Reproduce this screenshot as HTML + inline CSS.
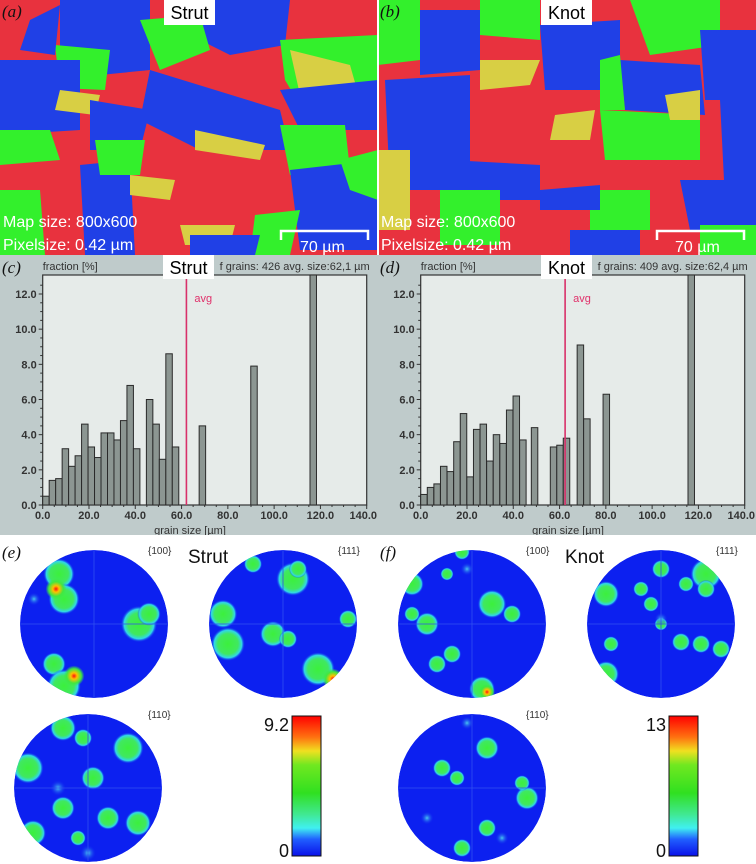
<!DOCTYPE html>
<html><head><meta charset="utf-8">
<style>
html,body{margin:0;padding:0;background:#fff;}
body{width:756px;height:864px;position:relative;overflow:hidden;font-family:"Liberation Sans","DejaVu Sans",sans-serif;}
svg{position:absolute;left:0;top:0;}
</style></head>
<body>
<svg id="fig" width="756" height="864" viewBox="0 0 756 864" xmlns="http://www.w3.org/2000/svg">
<defs>
  <clipPath id="clipA"><rect x="0" y="0" width="377" height="255"/></clipPath>
  <clipPath id="clipB"><rect x="379" y="0" width="377" height="255"/></clipPath>
  <radialGradient id="blobG">
    <stop offset="0" stop-color="#3cf03c"/><stop offset="0.6" stop-color="#40e860"/><stop offset="0.82" stop-color="#30d8e8"/><stop offset="1" stop-color="#1030f0" stop-opacity="0"/>
  </radialGradient>
  <radialGradient id="blobC">
    <stop offset="0" stop-color="#48c8f0"/><stop offset="1" stop-color="#1030f0" stop-opacity="0"/>
  </radialGradient>
  <radialGradient id="blobR">
    <stop offset="0" stop-color="#ff1010"/><stop offset="0.3" stop-color="#ffc000"/><stop offset="0.7" stop-color="#40e840"/><stop offset="1" stop-color="#40e840" stop-opacity="0"/>
  </radialGradient>
  <linearGradient id="cbar" x1="0" y1="1" x2="0" y2="0">
    <stop offset="0" stop-color="#0a10e8"/><stop offset="0.12" stop-color="#2060ff"/><stop offset="0.2" stop-color="#40f0f0"/><stop offset="0.3" stop-color="#40e890"/><stop offset="0.45" stop-color="#30e020"/><stop offset="0.65" stop-color="#70e820"/><stop offset="0.75" stop-color="#f0e020"/><stop offset="0.85" stop-color="#ff7010"/><stop offset="1" stop-color="#ff0000"/>
  </linearGradient>
</defs>

<g clip-path="url(#clipA)">
  <rect x="0" y="0" width="378" height="255" fill="#e8323e"/>
  <polygon fill="#2040e6" points="60,0 150,0 150,70 100,75 60,55"/>
  <polygon fill="#2040e6" points="200,0 290,0 285,45 230,55 200,40"/>
  <polygon fill="#33f02c" points="280,40 378,35 378,100 300,105 285,80"/>
  <polygon fill="#d8cf44" points="290,50 350,65 360,100 300,95"/>
  <polygon fill="#33f02c" points="55,45 110,50 105,90 60,88"/>
  <polygon fill="#33f02c" points="140,20 200,15 210,50 160,70"/>
  <polygon fill="#2040e6" points="0,60 80,60 80,130 0,135"/>
  <polygon fill="#2040e6" points="150,70 280,110 290,150 200,150 140,120"/>
  <polygon fill="#2040e6" points="280,90 378,80 378,130 300,130"/>
  <polygon fill="#d8cf44" points="60,90 100,95 95,115 55,110"/>
  <polygon fill="#2040e6" points="90,100 150,110 140,150 90,150"/>
  <polygon fill="#33f02c" points="0,130 50,130 60,160 0,165"/>
  <polygon fill="#d8cf44" points="195,130 265,145 260,160 195,150"/>
  <polygon fill="#33f02c" points="280,125 345,125 350,170 290,175"/>
  <polygon fill="#2040e6" points="290,170 378,160 378,250 300,250"/>
  <polygon fill="#33f02c" points="340,160 378,150 378,200 350,190"/>
  <polygon fill="#2040e6" points="80,165 130,160 135,255 85,255"/>
  <polygon fill="#33f02c" points="95,140 145,140 140,175 100,175"/>
  <polygon fill="#d8cf44" points="130,175 175,180 170,200 130,195"/>
  <polygon fill="#33f02c" points="0,190 40,190 45,255 0,255"/>
  <polygon fill="#33f02c" points="255,215 300,210 290,255 250,255"/>
  <polygon fill="#d8cf44" points="180,225 235,225 230,245 185,245"/>
  <polygon fill="#2040e6" points="60,5 30,20 20,50 55,55"/>
  <polygon fill="#2040e6" points="190,235 260,235 255,255 190,255"/>
</g>
<g clip-path="url(#clipB)">
  <rect x="378" y="0" width="378" height="255" fill="#e8323e"/>
  <polygon fill="#33f02c" points="378,0 420,0 420,60 378,65"/>
  <polygon fill="#2040e6" points="420,10 480,10 480,70 420,75"/>
  <polygon fill="#33f02c" points="480,0 540,0 540,40 480,35"/>
  <polygon fill="#2040e6" points="540,25 620,20 620,90 545,90"/>
  <polygon fill="#33f02c" points="630,0 720,0 720,45 650,55"/>
  <polygon fill="#2040e6" points="700,30 756,30 756,100 705,100"/>
  <polygon fill="#2040e6" points="385,80 470,75 470,190 390,190"/>
  <polygon fill="#d8cf44" points="480,60 540,60 530,85 480,90"/>
  <polygon fill="#33f02c" points="600,110 700,115 700,160 605,160"/>
  <polygon fill="#2040e6" points="620,60 700,65 705,115 625,110"/>
  <polygon fill="#d8cf44" points="665,95 700,90 700,120 670,120"/>
  <polygon fill="#2040e6" points="720,100 756,100 756,200 725,200"/>
  <polygon fill="#2040e6" points="450,160 540,165 540,200 455,200"/>
  <polygon fill="#33f02c" points="440,190 500,190 500,245 440,245"/>
  <polygon fill="#d8cf44" points="378,150 410,150 410,230 378,230"/>
  <polygon fill="#33f02c" points="590,190 650,190 650,230 590,230"/>
  <polygon fill="#2040e6" points="680,180 756,180 756,230 690,230"/>
  <polygon fill="#33f02c" points="700,225 756,225 756,255 700,255"/>
  <polygon fill="#2040e6" points="540,190 600,185 600,210 540,210"/>
  <polygon fill="#d8cf44" points="555,115 595,110 590,140 550,140"/>
  <polygon fill="#2040e6" points="570,230 640,230 640,255 570,255"/>
  <polygon fill="#33f02c" points="600,60 620,55 625,110 600,110"/>
</g>
<g font-size="16" fill="#fff">
  <text x="3" y="227">Map size: 800x600</text>
  <text x="3" y="250">Pixelsize: 0.42 µm</text>
  <text x="381" y="227">Map size: 800x600</text>
  <text x="381" y="250">Pixelsize: 0.42 µm</text>
  <path d="M281,240 V231 H368 V240" stroke="#fff" stroke-width="2.5" fill="none"/>
  <text x="300" y="252">70 µm</text>
  <path d="M657,240 V231 H744 V240" stroke="#fff" stroke-width="2.5" fill="none"/>
  <text x="675" y="252">70 µm</text>
</g>
<g font-family="Liberation Serif,serif" font-style="italic" font-size="17" fill="#111">
  <text x="2" y="17">(a)</text>
  <text x="380" y="17">(b)</text>
</g>
<rect x="164" y="0" width="51" height="25" fill="#fff"/>
<text x="189.5" y="19" text-anchor="middle" font-size="18" fill="#000">Strut</text>
<rect x="541" y="0" width="51" height="25" fill="#fff"/>
<text x="566.5" y="19" text-anchor="middle" font-size="18" fill="#000">Knot</text>

<g id="histC"></g>
<g id="histD"></g>
<g id="poles"></g>
</svg>

<script>
const strutBinStarts = [0,2.8,5.6,8.4,11.2,14.0,16.8,19.6,22.4,25.2,28.0,30.8,33.6,36.4,39.2,44.8,47.6,50.4,53.2,56.0,67.6,89.9,115.5];
const strutFractions = [0.5,1.4,1.5,3.2,2.2,2.8,4.6,3.3,2.7,4.1,4.1,3.7,4.8,6.8,3.2,6.0,4.6,2.6,8.6,3.3,4.5,7.9,13.5];
const knotBinStarts = [0,2.85,5.7,8.55,11.4,14.25,17.1,19.95,22.8,25.65,28.5,31.35,34.2,37.05,39.9,42.75,47.8,56.0,58.8,61.6,67.6,70.4,78.8,115.5];
const knotFractions = [0.6,1.0,1.2,2.2,1.9,3.6,5.2,1.6,4.3,4.6,2.5,4.0,3.5,5.4,6.2,3.7,4.4,3.3,3.4,3.8,9.1,4.9,6.3,13.5];
const xTicks = [0,20,40,60,80,100,120,140];
const yTicks = [0,2,4,6,8,10,12];
const strutAvg = 62.1;
const knotAvg = 62.4;
const strutCount = 426;
const knotCount = 409;
const binWidth = 2.8;

const NS = "http://www.w3.org/2000/svg";
function mk(tag, attrs, parent){
  const e = document.createElementNS(NS, tag);
  for (const k in attrs) e.setAttribute(k, attrs[k]);
  if (parent) parent.appendChild(e);
  return e;
}

function drawHist(g, ox, starts, vals, avg, count, title, label){
  const L = ox + 42.7, R = ox + 366.7, T = 275, B = 505;
  const xs = v => L + (v/140)*(R-L);
  const ys = v => B - (v/12)*(B-294);
  const bg = mk('rect', {x:ox, y:255, width:378, height:280, fill:'#bfcbcb'}, g);
  
  
  const plot = mk('rect', {x:L, y:T, width:R-L, height:B-T, fill:'#e6ebe9', stroke:'#333', 'stroke-width':1.2}, g);
  
  
  for (let v=0; v<=12.8; v+=0.5){
    const t = mk('line', {x1:L-(v%2===0?4:2.5), x2:L, y1:ys(v), y2:ys(v), stroke:'#333','stroke-width':1}, g);
    
    
  }
  yTicks.forEach(v=>{
    const t = mk('text', {x:L-6, y:ys(v)+4, 'text-anchor':'end', 'font-size':11, 'font-weight':'bold', fill:'#333'}, g);
    t.textContent = v.toFixed(1);
    
    
  });
  xTicks.forEach((v,i)=>{
    const last = i === xTicks.length-1;
    const t = mk('text', {x:last ? ox+377 : xs(v), y:B+14, 'text-anchor':last?'end':'middle', 'font-size':11, 'font-weight':'bold', fill:'#333'}, g);
    t.textContent = v.toFixed(1);
    
    
  });
  for (let v=0; v<=140; v+=5){
    const t = mk('line', {x1:xs(v), x2:xs(v), y1:B, y2:B+(v%20===0?4:2), stroke:'#333','stroke-width':1}, g);
    
    
  }
  const xt = mk('text', {x:ox+190, y:534, 'text-anchor':'middle', 'font-size':11, fill:'#333'}, g);
  xt.textContent = 'grain size [µm]';
  
  
  const yt = mk('text', {x:L, y:270, 'font-size':11, fill:'#333'}, g);
  yt.textContent = 'fraction [%]';
  
  
  const info = mk('text', {x:R+3, y:270, 'text-anchor':'end', 'font-size':11, fill:'#333'}, g);
  info.textContent = 'f grains: ' + count + '  avg. size:' + avg.toFixed(1).replace('.',',') + ' µm';
  
  
  starts.forEach((s,i)=>{
    const top = Math.max(ys(vals[i]), T);
    const b = mk('rect', {x:xs(s), y:top, width:xs(s+binWidth)-xs(s), height:B-top, fill:'#8c9692', stroke:'#2a2a2a','stroke-width':1}, g);
    
    
  });
  const al = mk('line', {x1:xs(avg), x2:xs(avg), y1:T, y2:B, stroke:'#d8306a','stroke-width':1.6}, g);
  
  
  const at = mk('text', {x:xs(avg)+8, y:302, 'font-size':11, fill:'#e0306a'}, g);
  at.textContent = 'avg';
  
  
  const tb = mk('rect', {x:ox+163, y:255, width:51, height:24, fill:'#fff'}, g);
  
  
  const tt = mk('text', {x:ox+188.5, y:274, 'text-anchor':'middle', 'font-size':18, fill:'#000'}, g);
  tt.textContent = title;
  
  
  const pl = mk('text', {x:ox+2, y:273, 'font-size':17, 'font-style':'italic', 'font-family':'Liberation Serif,serif', fill:'#111'}, g);
  pl.textContent = label;
  
  
}
drawHist(document.getElementById('histC'), 0, strutBinStarts, strutFractions, strutAvg, strutCount, 'Strut', '(c)');
drawHist(document.getElementById('histD'), 378, knotBinStarts, knotFractions, knotAvg, knotCount, 'Knot', '(d)');

const eP100 = [[-35,-50,12,'G'],[-30,-25,12,'G'],[-38,-35,8,'R'],[45,0,14,'G'],[55,-10,9,'G'],[-40,40,9,'G'],[-30,62,13,'G'],[-20,52,8,'R'],[-60,-25,5,'C']];
const eP111 = [[10,-45,13,'G'],[-60,-10,11,'G'],[-55,20,13,'G'],[-10,10,10,'G'],[5,15,7,'G'],[35,45,13,'G'],[50,55,8,'R'],[-30,-60,7,'G'],[15,-55,7,'G'],[65,-5,7,'G']];
const eP110 = [[-25,-60,10,'G'],[-5,-50,7,'G'],[40,-40,12,'G'],[-60,-20,12,'G'],[-30,0,6,'C'],[5,-10,9,'G'],[-25,20,9,'G'],[-55,45,10,'G'],[20,30,9,'G'],[50,35,10,'G'],[-10,50,6,'G'],[0,65,6,'C']];
const fP100 = [[-10,-72,6,'G'],[-60,-40,9,'G'],[-25,-50,5,'G'],[20,-20,11,'G'],[40,-10,7,'G'],[-45,0,9,'G'],[-20,30,7,'G'],[-35,40,7,'G'],[10,65,10,'G'],[15,68,6,'R'],[-60,-10,6,'G'],[-5,-55,5,'C']];
const fP111 = [[0,-55,7,'G'],[45,-50,12,'G'],[-55,-30,10,'G'],[-20,-35,6,'G'],[-10,-20,6,'G'],[25,-40,6,'G'],[45,-35,7,'G'],[20,18,7,'G'],[40,20,7,'G'],[60,25,7,'G'],[-50,20,6,'G'],[-55,50,10,'G'],[0,0,5,'G'],[0,-5,5,'C']];
const fP110 = [[15,-40,9,'G'],[-30,-20,7,'G'],[-15,-10,6,'G'],[55,10,9,'G'],[50,-5,6,'G'],[-10,60,7,'G'],[15,40,7,'G'],[-45,30,5,'C'],[30,50,5,'C'],[-5,-65,5,'C']];

const pole = document.getElementById('poles');
const bgp = mk('rect', {x:0, y:535, width:756, height:329, fill:'#fff'}, pole);


let cid = 0;
function drawPole(cx, cy, blobs, label, lx){
  cid++;
  const cp = mk('clipPath', {id:'pc'+cid}, pole);
  mk('circle', {cx:cx, cy:cy, r:74}, cp);
  const g = mk('g', {'clip-path':'url(#pc'+cid+')'}, pole);
  
  
  mk('circle', {cx:cx, cy:cy, r:74, fill:'#0c20f0'}, g);
  blobs.forEach(b=>{
    const fill = b[3]==='R' ? 'url(#blobR)' : (b[3]==='C' ? 'url(#blobC)' : 'url(#blobG)');
    const c = mk('circle', {cx:cx+b[0], cy:cy+b[1], r:b[2]*1.3, fill:fill}, g);
    
    
  });
  mk('line', {x1:cx-74, x2:cx+74, y1:cy, y2:cy, stroke:'#3050f0', 'stroke-width':0.8}, g);
  mk('line', {x1:cx, x2:cx, y1:cy-74, y2:cy+74, stroke:'#3050f0', 'stroke-width':0.8}, g);
  const t = mk('text', {x:lx, y:cy-70, 'font-size':10, fill:'#333'}, pole);
  t.textContent = label;
  
  
}
drawPole(94, 624, eP100, '{100}', 148);
drawPole(283, 624, eP111, '{111}', 338);
drawPole(88, 788, eP110, '{110}', 148);
drawPole(472, 624, fP100, '{100}', 526);
drawPole(661, 624, fP111, '{111}', 716);
drawPole(472, 788, fP110, '{110}', 526);

function drawBar(x, top){
  const r = mk('rect', {x:x, y:716, width:29, height:140, fill:'url(#cbar)', stroke:'#111','stroke-width':1}, pole);
  
  
  const t1 = mk('text', {x:x-3, y:731, 'text-anchor':'end', 'font-size':18, fill:'#111'}, pole);
  t1.textContent = top;
  
  
  const t2 = mk('text', {x:x-3, y:857, 'text-anchor':'end', 'font-size':18, fill:'#111'}, pole);
  t2.textContent = '0';
  
  
}
drawBar(292, '9.2');
drawBar(669, '13');

const labs = [['(e)',2,558],['(f)',380,558]];
labs.forEach(l=>{
  const t = mk('text', {x:l[1], y:l[2], 'font-size':17, 'font-style':'italic', 'font-family':'Liberation Serif,serif', fill:'#111'}, pole);
  t.textContent = l[0];
  
  
});
const s1 = mk('text', {x:188, y:563, 'font-size':19, fill:'#111'}, pole);
s1.textContent = 'Strut';


const s2 = mk('text', {x:565, y:563, 'font-size':19, fill:'#111'}, pole);
s2.textContent = 'Knot';


</script>
</body></html>
